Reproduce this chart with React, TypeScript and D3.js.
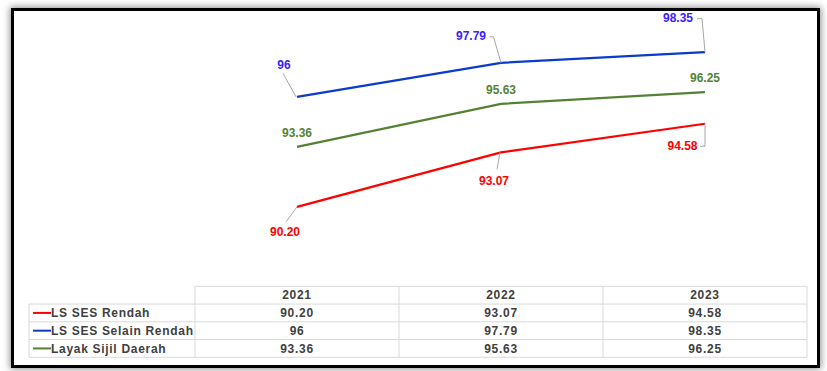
import { scaleLinear, scaleBand, line } from "d3";

const years = ["2021", "2022", "2023"];
const seriesNames = ["LS SES Rendah", "LS SES Selain Rendah", "Layak Sijil Daerah"];
const rendah = [90.2, 93.07, 94.58];
const selainRendah = [96, 97.79, 98.35];
const sijilDaerah = [93.36, 95.63, 96.25];
const valueLabels = [
  ["90.20", "93.07", "94.58"],
  ["96", "97.79", "98.35"],
  ["93.36", "95.63", "96.25"],
];

const W = 827;
const H = 371;

// styling per series (not data)
const styles = [
  { line: "#FF0000", text: "#FF0000" },
  { line: "#0A3CCC", text: "#3A22FF" },
  { line: "#548235", text: "#548235" },
];

// label offsets from the point: [dx, baseline dy, leader path relative to point]
const labelPos = [
  [
    { dx: -12, dy: 29.5, leader: "M0,0L-11,15" },
    { dx: -7, dy: 33, leader: "M-1,0L-4,17" },
    { dx: -22.5, dy: 26.5, leader: "M0,0L0,22.5L-5,22.5" },
  ],
  [
    { dx: -13, dy: -27.7, leader: "M-1,0L-14,-23.5" },
    { dx: -30, dy: -23, leader: "M0,0L-7.5,-26L-11.5,-26" },
    { dx: -27, dy: -29.8, leader: "M0,0L-3,-33.5L-8,-33.5" },
  ],
  [
    { dx: 0, dy: -10, leader: "" },
    { dx: 0, dy: -9.4, leader: "" },
    { dx: 0, dy: -10, leader: "" },
  ],
];

export default function App() {
  const all = [rendah, selainRendah, sijilDaerah];
  const x = scaleBand().domain(years).range([195, 807]);
  const y = scaleLinear().domain([88, 100]).range([248.6, 20.9]);
  const cx = (yr: string) => (x(yr) as number) + x.bandwidth() / 2;
  const path = line<number>()
    .x((_, i) => cx(years[i]))
    .y((d) => y(d));

  const rowTop = 286.3;
  const rowH = 17.75;
  const tableLeft = 29;
  const tableRight = 807;
  const font = "'Liberation Sans', Arial, sans-serif";

  return (
    <svg
      width={W}
      height={H}
      style={{ position: "absolute", left: 0, top: 0, background: "#fff" }}
      fontFamily={font}
    >
      <defs>
        <filter id="glow" x="-5%" y="-5%" width="110%" height="110%">
          <feGaussianBlur stdDeviation="3.5" />
        </filter>
      </defs>
      <rect x={10} y={7} width={811} height={362} fill="#8c8c8c" filter="url(#glow)" />
      <rect x={12.5} y={9.5} width={806} height={357} fill="#fff" stroke="#000" strokeWidth={3} />

      {all.map((vals, s) => (
        <path
          key={"l" + s}
          d={path(vals) as string}
          fill="none"
          stroke={styles[s].line}
          strokeWidth={2.25}
        />
      ))}

      {all.map((vals, s) =>
        vals.map((v, i) => {
          const px = cx(years[i]);
          const py = y(v);
          const p = labelPos[s][i];
          return (
            <g key={"t" + s + i}>
              {p.leader && (
                <path
                  d={p.leader}
                  transform={`translate(${px},${py})`}
                  fill="none"
                  stroke="#a6a6a6"
                  strokeWidth={1}
                />
              )}
              <text
                x={px + p.dx}
                y={py + p.dy}
                textAnchor="middle"
                fontSize={12}
                fontWeight="bold"
                fill={styles[s].text}
              >
                {valueLabels[s][i]}
              </text>
            </g>
          );
        })
      )}

      {/* data table */}
      <g fill="none" stroke="#d9d9d9" strokeWidth={1}>
        <line x1={195} x2={tableRight} y1={rowTop} y2={rowTop} />
        {[1, 2, 3, 4].map((r) => (
          <line
            key={"h" + r}
            x1={tableLeft}
            x2={tableRight}
            y1={rowTop + r * rowH}
            y2={rowTop + r * rowH}
          />
        ))}
        <line x1={tableLeft} x2={tableLeft} y1={rowTop + rowH} y2={rowTop + 4 * rowH} />
        {years.map((yr) => (
          <line
            key={"v" + yr}
            x1={x(yr) as number}
            x2={x(yr) as number}
            y1={rowTop}
            y2={rowTop + 4 * rowH}
          />
        ))}
        <line x1={tableRight} x2={tableRight} y1={rowTop} y2={rowTop + 4 * rowH} />
      </g>
      <g fontSize={12} fontWeight="bold" fill="#404040" letterSpacing={0.7}>
        {years.map((yr) => (
          <text key={"y" + yr} x={cx(yr)} y={rowTop + rowH / 2 + 4.3} textAnchor="middle">
            {yr}
          </text>
        ))}
        {seriesNames.map((name, s) => {
          const cy = rowTop + (s + 1) * rowH + rowH / 2;
          return (
            <g key={"r" + s}>
              <line x1={33} x2={51} y1={cy} y2={cy} stroke={styles[s].line} strokeWidth={2} />
              <text x={51} y={cy + 4.3}>
                {name}
              </text>
              {valueLabels[s].map((lab, i) => (
                <text key={"c" + i} x={cx(years[i])} y={cy + 4.3} textAnchor="middle">
                  {lab}
                </text>
              ))}
            </g>
          );
        })}
      </g>
    </svg>
  );
}
